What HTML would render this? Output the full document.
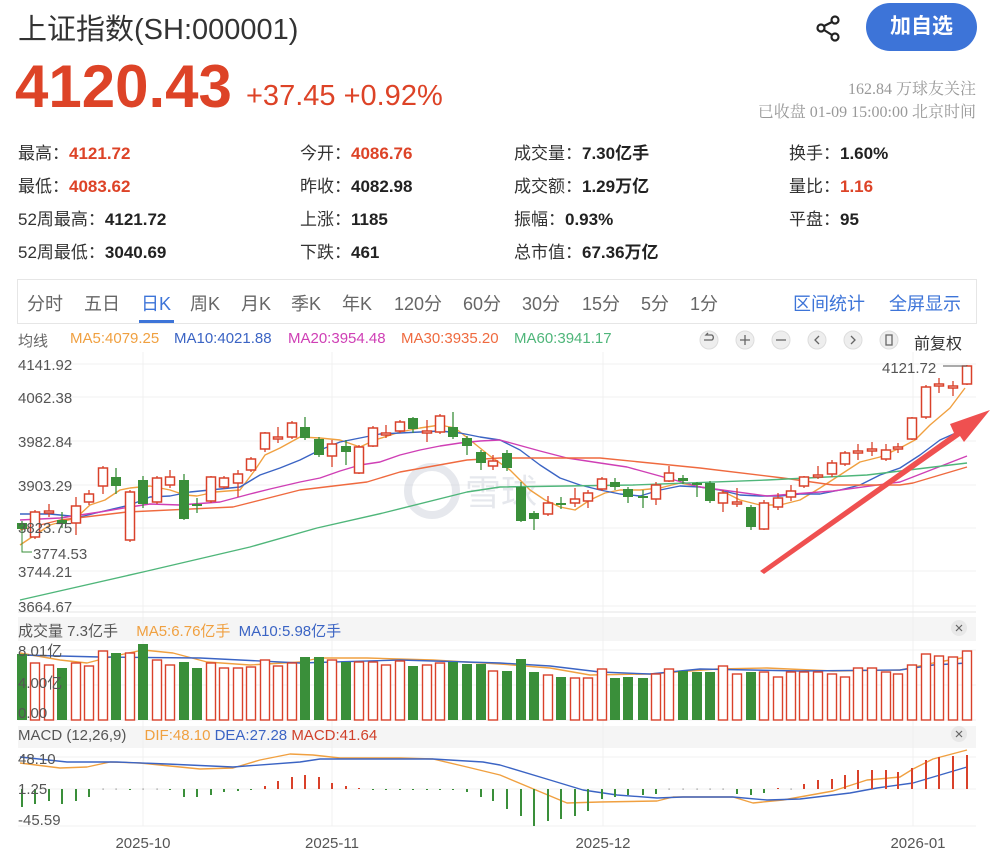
<!DOCTYPE html>
<html><head><meta charset="utf-8">
<style>
*{margin:0;padding:0;box-sizing:border-box}
body{width:1002px;height:867px;background:#fff;font-family:"Liberation Sans","Noto Sans CJK SC",sans-serif;color:#333;position:relative;overflow:hidden}
.a{position:absolute;white-space:nowrap}
.red{color:#dd4327}
.b{font-weight:bold;color:#222}
.st{font-size:17px;color:#333}
.tab{font-size:18px;color:#666;top:290px}
.lg{font-size:15px;top:330px}
</style></head><body>
<div class="a" style="left:18px;top:6px;font-size:29px;color:#333">上证指数(SH:000001)</div>
<div class="a" style="left:15px;top:52px;font-size:60px;font-weight:bold;color:#dd4327;letter-spacing:0px">4120.43</div>
<div class="a" style="left:246px;top:80px;font-size:29px;color:#dd4327">+37.45 +0.92%</div>
<svg class="a" style="left:814px;top:14px" width="28" height="28" viewBox="0 0 28 28"><circle cx="21" cy="6" r="3.5" fill="none" stroke="#222" stroke-width="2.2"/><circle cx="7" cy="14" r="3.5" fill="none" stroke="#222" stroke-width="2.2"/><circle cx="21" cy="23" r="3.5" fill="none" stroke="#222" stroke-width="2.2"/><line x1="10" y1="12" x2="18" y2="8" stroke="#222" stroke-width="2.2"/><line x1="10" y1="16" x2="18" y2="21" stroke="#222" stroke-width="2.2"/></svg>
<div class="a" style="left:866px;top:3px;width:111px;height:48px;border-radius:24px;background:#3d74d8;color:#fff;font-size:21px;font-weight:bold;text-align:center;line-height:48px">加自选</div>
<div class="a" style="right:26px;top:78px;font-size:16px;color:#999;font-family:'Liberation Serif','Noto Serif CJK SC',serif;text-align:right;line-height:23px">162.84 万球友关注<br>已收盘 01-09 15:00:00 北京时间</div>

<div class="a st" style="left:18px;top:139px">最高：<span class="b" style="color:#dd4327">4121.72</span></div>
<div class="a st" style="left:18px;top:172px">最低：<span class="b" style="color:#dd4327">4083.62</span></div>
<div class="a st" style="left:18px;top:205px">52周最高：<span class="b">4121.72</span></div>
<div class="a st" style="left:18px;top:238px">52周最低：<span class="b">3040.69</span></div>
<div class="a st" style="left:300px;top:139px">今开：<span class="b" style="color:#dd4327">4086.76</span></div>
<div class="a st" style="left:300px;top:172px">昨收：<span class="b">4082.98</span></div>
<div class="a st" style="left:300px;top:205px">上涨：<span class="b">1185</span></div>
<div class="a st" style="left:300px;top:238px">下跌：<span class="b">461</span></div>
<div class="a st" style="left:514px;top:139px">成交量：<span class="b">7.30亿手</span></div>
<div class="a st" style="left:514px;top:172px">成交额：<span class="b">1.29万亿</span></div>
<div class="a st" style="left:514px;top:205px">振幅：<span class="b">0.93%</span></div>
<div class="a st" style="left:514px;top:238px">总市值：<span class="b">67.36万亿</span></div>
<div class="a st" style="left:789px;top:139px">换手：<span class="b">1.60%</span></div>
<div class="a st" style="left:789px;top:172px">量比：<span class="b" style="color:#dd4327">1.16</span></div>
<div class="a st" style="left:789px;top:205px">平盘：<span class="b">95</span></div>

<div class="a" style="left:17px;top:279px;width:960px;height:45px;border:1px solid #e6e6e6"></div>
<div class="a tab" style="left:27px">分时</div>
<div class="a tab" style="left:84px">五日</div>
<div class="a tab" style="left:141px;color:#3d74d8">日K</div>
<div class="a" style="left:139px;top:320px;width:35px;height:3px;background:#3d74d8"></div>
<div class="a tab" style="left:190px">周K</div>
<div class="a tab" style="left:241px">月K</div>
<div class="a tab" style="left:291px">季K</div>
<div class="a tab" style="left:342px">年K</div>
<div class="a tab" style="left:394px">120分</div>
<div class="a tab" style="left:463px">60分</div>
<div class="a tab" style="left:522px">30分</div>
<div class="a tab" style="left:582px">15分</div>
<div class="a tab" style="left:641px">5分</div>
<div class="a tab" style="left:690px">1分</div>
<div class="a tab" style="left:793px;color:#3d74d8">区间统计</div>
<div class="a tab" style="left:889px;color:#3d74d8">全屏显示</div>

<div class="a lg" style="left:18px;color:#666">均线</div>
<div class="a lg" style="left:70px;color:#f0a040">MA5:4079.25</div>
<div class="a lg" style="left:174px;color:#3b64c4">MA10:4021.88</div>
<div class="a lg" style="left:288px;color:#cf3fb5">MA20:3954.48</div>
<div class="a lg" style="left:401px;color:#ef6a3f">MA30:3935.20</div>
<div class="a lg" style="left:514px;color:#4fb67a">MA60:3941.17</div>
<div class="a" style="left:914px;top:330px;font-size:16px;color:#333">前复权</div>

<svg class="a" style="left:0;top:0" width="1002" height="867" id="s">
<g fill="#eee" stroke="#ddd">
<circle cx="709" cy="340" r="9"/><circle cx="745" cy="340" r="9"/><circle cx="781" cy="340" r="9"/><circle cx="817" cy="340" r="9"/><circle cx="853" cy="340" r="9"/><circle cx="889" cy="340" r="9"/>
</g>
<g stroke="#666" stroke-width="1.3" fill="none">
<path d="M704 340h8a3 3 0 0 0 0-5h-6l2-2"/><path d="M740 340h10M745 335v10"/><path d="M776 340h10"/><path d="M819 336l-4 4 4 4"/><path d="M851 336l4 4-4 4"/><rect x="886" y="335" width="6" height="10"/>
</g>
<rect x="18" y="617" width="958" height="24" fill="#f5f5f5"/>
<rect x="18" y="726" width="958" height="22" fill="#f5f5f5"/>
<circle cx="959" cy="628" r="8" fill="#e8e8e8"/><circle cx="959" cy="734" r="8" fill="#e8e8e8"/>
<g stroke="#666" stroke-width="1.2"><path d="M956 625l6 6M962 625l-6 6M956 731l6 6M962 731l-6 6"/></g>
<g id="grid" stroke="#f0f0f0" stroke-width="1"></g>
<g opacity="0.45">
<circle cx="432" cy="491" r="24" fill="none" stroke="#c8ced8" stroke-width="8"/>
<text x="465" y="505" font-size="36" fill="#c8ced8">雪球</text>
</g>
<g id="ma"></g>
<g id="c"></g>
<g font-size="15" fill="#555" id="lab"></g>
<polygon points="760,571 954,433 950,424 990,410 964,442 960,436 764,574" fill="#ef5050"/>
</svg>
<div class="a" style="left:18px;top:620px;font-size:15px;color:#555">成交量 7.3亿手 <span style="color:#f0a040;margin-left:14px">MA5:6.76亿手</span> <span style="color:#3b64c4;margin-left:4px">MA10:5.98亿手</span></div>
<div class="a" style="left:18px;top:727px;font-size:15px;color:#555">MACD (12,26,9) <span style="color:#f0a040;margin-left:14px">DIF:48.10</span> <span style="color:#3b64c4">DEA:27.28</span> <span style="color:#d0402a">MACD:41.64</span></div>
<script>
var NS="http://www.w3.org/2000/svg";
function el(p,t,a){var e=document.createElementNS(NS,t);for(var k in a)e.setAttribute(k,a[k]);p.appendChild(e);return e;}
var s=document.getElementById('s'),g=document.getElementById('grid'),c=document.getElementById('c'),ma=document.getElementById('ma'),lab=document.getElementById('lab');
[364,397,441,485,528,571,606].forEach(function(y){el(g,'line',{x1:18,x2:976,y1:y,y2:y});});
[650,685,720,757,789,826].forEach(function(y){el(g,'line',{x1:18,x2:976,y1:y,y2:y});});
[143,332,603,913].forEach(function(x){el(g,'line',{x1:x,x2:x,y1:352,y2:826});});
el(g,'line',{x1:18,x2:976,y1:612,y2:612,stroke:'#e6e6e6'});
var lb=[["4141.92",370],["4062.38",403],["3982.84",447],["3903.29",491],["3823.75",533],["3744.21",577],["3664.67",612],["8.01亿",656],["4.00亿",688],["0.00",718],["48.10",764],["1.25",794],["-45.59",825]];
lb.forEach(function(l){var t=el(lab,'text',{x:18,y:l[1]});t.textContent=l[0];});
var t=el(lab,'text',{x:33,y:559});t.textContent="3774.53";
el(lab,'path',{d:"M22 523V552H32",stroke:"#3a8f3a",fill:"none"});
t=el(lab,'text',{x:882,y:373});t.textContent="4121.72";
el(lab,'line',{x1:943,x2:967,y1:366,y2:366,stroke:"#555"});
[["2025-10",143],["2025-11",332],["2025-12",603],["2026-01",918]].forEach(function(l){var t=el(lab,'text',{x:l[1],y:848,'text-anchor':'middle'});t.textContent=l[0];});
var C=[[22,523,529,'g'],[35,512,537,'r'],[49,511,513,'r',504,517],[62,520,524,'g',512,528],[76,506,523,'r',497,535],[89,494,502,'r',490,505],[103,468,486,'r',466,494],[116,477,486,'g',468,494],[130,492,540,'r'],[143,480,504,'g',476,508],[157,478,502,'r'],[170,477,485,'r',470,488],[184,480,519,'g',474,520],[197,504,506,'g',498,513],[211,477,501,'r',476,503],[224,478,487,'r'],[238,474,483,'r',470,497],[251,459,470,'r'],[265,433,449,'r',432,452],[278,437,439,'r',427,443],[292,423,437,'r'],[305,427,438,'g',417,440],[319,439,455,'g'],[332,444,456,'r',440,467],[346,446,452,'g',440,465],[359,447,473,'r',445,474],[373,428,446,'r',426,447],[386,433,435,'r',425,438],[400,422,431,'r',420,433],[413,418,429,'g',417,433],[427,431,433,'r',420,442],[440,416,432,'r',414,434],[453,427,437,'g',412,439],[467,438,446,'g',436,455],[481,452,463,'g',450,470],[493,461,466,'r',455,470],
[507,453,468,'g',450,471],[521,487,521,'g',482,522],[534,513,519,'g',511,530],[548,503,514,'r',496,516],[561,503,505,'g',497,509],[575,499,503,'r',488,507],[588,493,501,'r',490,508],[602,479,489,'r'],[615,482,487,'g',478,490],[628,489,497,'g',487,503],[643,496,498,'g',490,508],[656,485,499,'r',482,505],[669,473,481,'r',466,482],[683,478,481,'g',475,484],[697,483,485,'g',482,497],[710,483,501,'g'],[723,493,503,'r',490,512],[737,502,504,'r',488,507],[751,507,527,'g',505,530],[764,503,529,'r',500,530],[778,498,507,'r',493,510],[791,491,497,'r',485,501],[804,477,486,'r',476,488],[818,475,477,'r',466,479],[832,463,474,'r',460,477],[845,453,464,'r',451,466],[858,451,453,'r',444,460],[872,449,451,'r',442,456],[886,450,459,'r',444,461],[898,447,449,'r',443,453],[912,418,439,'r',417,440],[926,387,417,'r'],[939,384,386,'r',378,393],[953,386,388,'r',381,396],[967,366,384,'r',365,385]];
var V=[654,663,665,668,663,666,651,653,653,644,660,665,662,668,663,668,668,667,660,666,663,657,657,660,662,662,662,665,661,666,665,663,662,664,664,671,671,659,672,675,677,678,678,669,678,677,678,674,669,671,672,672,666,674,672,672,677,672,672,672,674,677,668,668,672,674,665,654,656,657,651];
var H=[18,15,12,15,12,8,0,0,1,0,0,1,8,8,6,3,2,1,-3,-8,-12,-14,-12,-6,-3,-1,1,1,1,1,1,1,1,3,8,12,20,27,37,32,30,27,22,10,8,6,6,5,0,0,0,0,0,5,6,4,-1,0,-5,-9,-10,-14,-19,-19,-19,-17,-21,-29,-32,-33,-34];
var R="#d9412a",G="#3a8f3a";
C.forEach(function(d,i){var col=d[3]=='r'?R:G,x=d[0];
 var wt=d[4]||d[1]-2,wb=d[5]||d[2]+2;
 el(c,'line',{x1:x,x2:x,y1:wt,y2:wb,stroke:col,'stroke-width':1.3});
 var h=Math.max(d[2]-d[1],1.5);
 if(d[3]=='r')el(c,'rect',{x:x-4.5,y:d[1],width:9,height:h,fill:'#fff',stroke:R,'stroke-width':1.5});
 else el(c,'rect',{x:x-5,y:d[1],width:10,height:h,fill:G});
 var vy=V[i];
 if(d[3]=='r')el(c,'rect',{x:x-4.5,y:vy,width:9,height:720-vy,fill:'#fff',stroke:R,'stroke-width':1.4});
 else el(c,'rect',{x:x-5,y:vy,width:10,height:720-vy,fill:G});
 var hv=H[i];
 if(hv!=0)el(c,'line',{x1:x,x2:x,y1:789,y2:789+hv,stroke:hv>0?G:R,'stroke-width':2});
 else el(c,'rect',{x:x-0.5,y:788.5,width:1.2,height:1.2,fill:'#888'});
});
function pl(pts,col,w){el(ma,'polyline',{points:pts,fill:'none',stroke:col,'stroke-width':w||1.4,'stroke-linejoin':'round'});}
pl("20,545 50,525 76,518 90,505 105,500 120,490 130,488 150,486 170,490 185,495 197,496 215,492 240,490 255,470 265,455 280,448 300,437 320,438 340,440 360,447 375,440 400,432 420,428 440,425 455,428 470,440 490,456 510,470 530,490 545,500 560,507 575,510 590,500 605,493 620,490 640,490 660,488 680,483 700,487 720,490 740,500 760,505 780,505 800,500 820,488 840,475 860,462 880,457 900,448 915,440 930,425 950,408 965,388","#f0a040");
pl("20,514 50,514 80,517 100,512 130,505 150,497 170,496 190,492 220,489 240,487 260,475 280,468 300,460 320,450 340,442 360,438 380,434 400,433 420,432 440,431 460,433 480,437 500,440 520,450 540,465 560,478 580,485 600,490 620,494 640,496 660,490 680,486 700,487 720,490 740,495 760,496 780,496 800,494 820,494 840,490 860,485 880,475 900,468 920,455 940,440 967,428","#3b64c4");
pl("20,520 60,518 100,512 130,507 150,504 180,505 220,502 250,494 270,489 300,482 320,478 340,471 360,465 380,462 400,455 420,450 440,446 460,443 480,441 500,440 540,451 567,458 600,463 627,467 667,478 700,487 767,496 833,491 900,482 967,456","#cf3fb5");
pl("20,530 60,520 127,512 233,507 300,490 367,482 400,472 467,460 500,458 600,458 700,468 783,478 833,485 900,485 913,483 967,467","#ef6a3f");
pl("20,600 143,572 250,547 317,528 383,513 467,492 500,487 633,485 767,480 867,475 967,463","#4fb67a");
pl("20,653 60,660 87,663 110,657 143,650 173,653 207,662 250,665 300,662 320,658 367,658 433,660 500,664 550,668 590,675 650,674 717,669 767,668 833,671 900,670 933,663 967,657","#f0a040");
pl("20,655 100,657 200,658 300,663 400,660 500,663 550,666 600,672 650,674 700,669 800,671 900,670 933,665 967,663","#3b64c4");
pl("20,763 60,768 87,767 110,762 140,763 200,769 233,768 260,760 290,754 313,755 340,758 400,758 433,759 467,767 500,775 567,803 600,802 657,801 673,797 733,797 753,803 783,800 833,791 867,780 900,777 913,769 933,759 967,750","#f0a040");
pl("20,757 67,762 117,762 167,764 233,767 300,762 320,759 367,759 433,759 483,762 500,765 550,780 583,790 617,795 657,798 683,797 733,797 767,800 800,799 850,793 877,788 913,783 967,767","#3b64c4");
</script>
</body></html>
